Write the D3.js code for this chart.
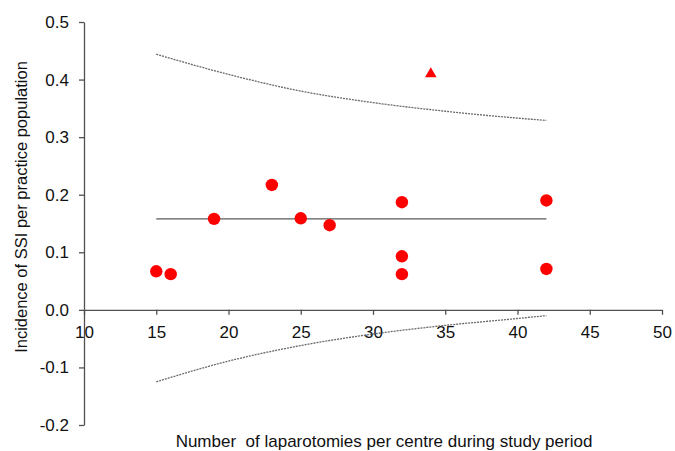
<!DOCTYPE html>
<html>
<head>
<meta charset="utf-8">
<script src="https://cdn.jsdelivr.net/npm/d3@7"></script>
<style>
  body { margin: 0; background: #fff; }
  svg { display: block; font-family: "Liberation Sans", Arial, sans-serif; }
</style>
</head>
<body>
<div id="chart"></div>
<script>
// data
const centreN = [15, 16, 19, 23, 25, 27, 32, 32, 32, 42, 42];
const centreSSI = [0.067, 0.062, 0.158, 0.217, 0.159, 0.147, 0.187, 0.093, 0.062, 0.190, 0.071];
const outlierN = [34];
const outlierSSI = [0.41];
const meanLine = [[15, 0.158], [42, 0.158]];
const limitN = [15, 20, 25, 30, 35, 40, 42];
const upperLimit = [0.444, 0.409, 0.380, 0.360, 0.345, 0.333, 0.329];
const lowerLimit = [-0.125, -0.089, -0.062, -0.042, -0.027, -0.015, -0.010];
const xTicks = [10, 15, 20, 25, 30, 35, 40, 45, 50];
const yTicks = [-0.2, -0.1, 0, 0.1, 0.2, 0.3, 0.4, 0.5];

const width = 675, height = 451;
const margin = { top: 22, right: 13, bottom: 26, left: 84 };

const svg = d3.select("#chart").append("svg")
  .attr("width", width)
  .attr("height", height);

// scales
const x = d3.scaleLinear().domain([10, 50]).range([margin.left, width - margin.right]);
const y = d3.scaleLinear().domain([-0.2, 0.5]).range([height - margin.bottom, margin.top]);

const axisColor = "#505050";

// y axis
const yAxis = svg.append("g")
  .attr("transform", `translate(${x(10)},0)`)
  .call(d3.axisLeft(y).tickValues(yTicks).tickSize(5).tickSizeOuter(0).tickPadding(10)
    .tickFormat(d3.format(".1f")));

// x axis sits on y = 0
const xAxis = svg.append("g")
  .attr("transform", `translate(0,${y(0)})`)
  .call(d3.axisBottom(x).tickValues(xTicks).tickSize(5).tickSizeOuter(0).tickPadding(11));

[yAxis, xAxis].forEach((g) => {
  g.select(".domain").attr("stroke", axisColor).attr("stroke-width", 1.3);
  g.selectAll(".tick line").attr("stroke", axisColor).attr("stroke-width", 1.3);
  g.selectAll(".tick text").attr("fill", "#111").style("font-size", "17px");
});
// minus sign as plain hyphen like the original
yAxis.selectAll(".tick text").text((d) => d3.format(".1f")(d).replace("−", "-"));

// funnel limits
const limitLine = d3.line()
  .x((d) => x(d[0]))
  .y((d) => y(d[1]))
  .curve(d3.curveMonotoneX);

[upperLimit, lowerLimit].forEach((vals) => {
  svg.append("path")
    .datum(limitN.map((n, i) => [n, vals[i]]))
    .attr("d", limitLine)
    .attr("fill", "none")
    .attr("stroke", "#6a6a6a")
    .attr("stroke-width", 1.3)
    .attr("stroke-dasharray", "2,1");
});

// overall mean
svg.append("path")
  .datum(meanLine)
  .attr("d", d3.line().x((d) => x(d[0])).y((d) => y(d[1])))
  .attr("stroke", "#5a5a5a")
  .attr("stroke-width", 1.3);

// centres
svg.append("g")
  .selectAll("circle")
  .data(centreN)
  .join("circle")
  .attr("cx", (d) => x(d))
  .attr("cy", (d, i) => y(centreSSI[i]))
  .attr("r", 6.2)
  .attr("fill", "#ff0000");

// outlier
svg.append("g")
  .selectAll("path")
  .data(outlierN)
  .join("path")
  .attr("d", d3.symbol(d3.symbolTriangle, 58))
  .attr("transform", (d, i) => `translate(${x(d)},${y(outlierSSI[i])})`)
  .attr("fill", "#ff0000");

// axis titles
svg.append("text")
  .attr("x", (x(10) + x(50)) / 2 + 11)
  .attr("y", 447)
  .attr("text-anchor", "middle")
  .style("font-size", "17px")
  .style("white-space", "pre")
  .attr("fill", "#111")
  .text("Number  of laparotomies per centre during study period");

svg.append("text")
  .attr("transform", `translate(27,207) rotate(-90)`)
  .attr("text-anchor", "middle")
  .style("font-size", "16.5px")
  .attr("fill", "#111")
  .text("Incidence of SSI per practice population");
</script>
</body>
</html>
